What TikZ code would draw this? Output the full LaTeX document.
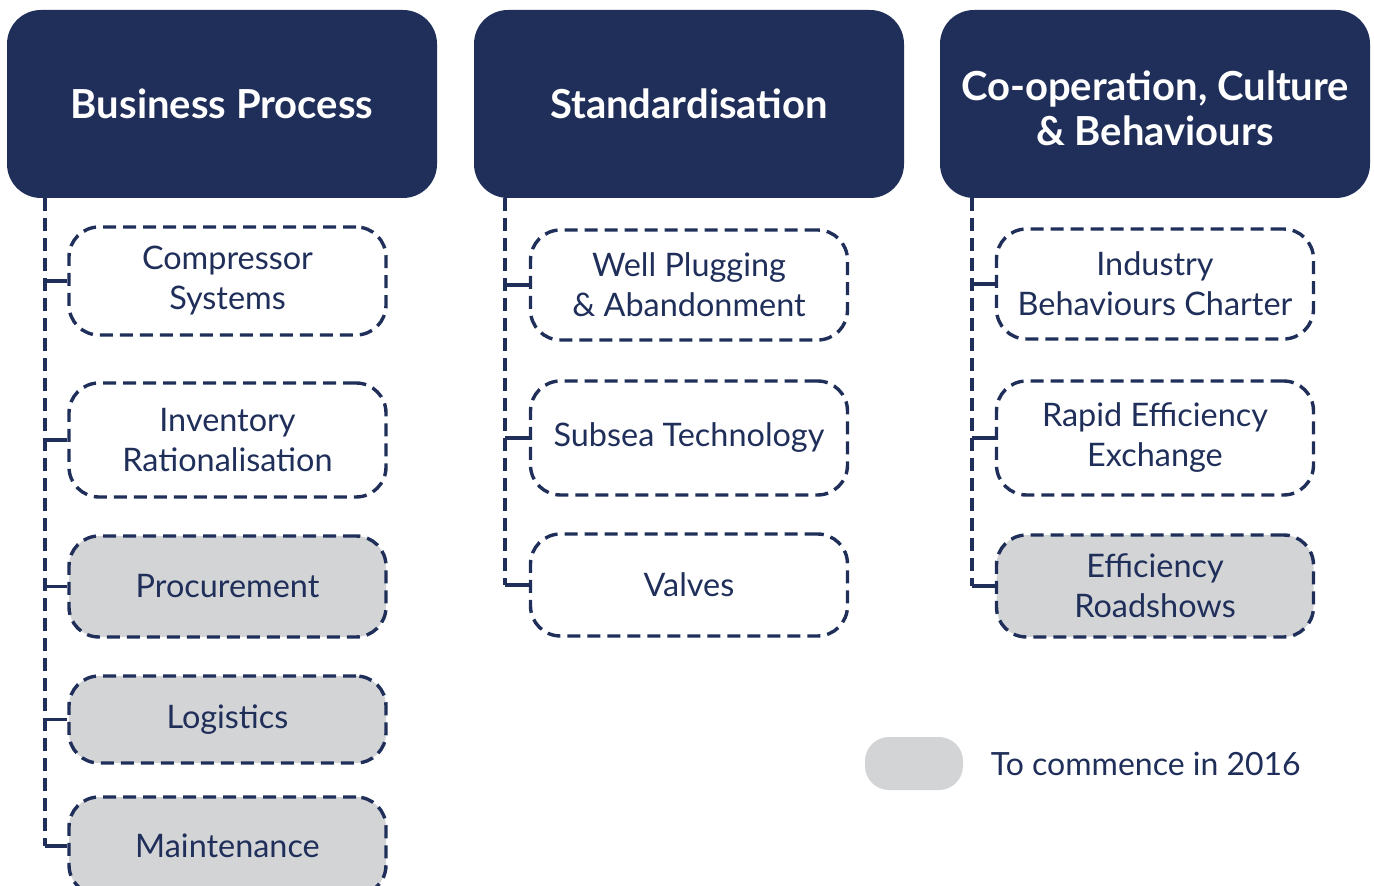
\documentclass[tikz,border=0pt]{standalone}
\usepackage{fontspec}
\setmainfont{Lato}
\usetikzlibrary{positioning}
\definecolor{navy}{RGB}{31,47,90}
\definecolor{soon}{RGB}{211,212,214}
\tikzset{
  head/.style={rectangle,rounded corners=17pt,fill=navy,text=white,
    font=\bfseries\fontsize{20}{22.5}\selectfont,minimum width=215pt,minimum height=94pt,align=center},
  item/.style={rectangle,rounded corners=15pt,draw=navy,line width=1.7pt,dash pattern=on 6.5pt off 3.5pt,
    text=navy,font=\fontsize{16.2}{20}\selectfont,minimum width=158.5pt,align=center},
  later/.style={item,fill=soon},
  trunk/.style={draw=navy,line width=1.6pt,dash pattern=on 6.5pt off 3.5pt},
  twig/.style={draw=navy,line width=1.6pt},
}
\begin{document}
\begin{tikzpicture}[x=0.5pt,y=-0.5pt]
                        \clip (0,0) rectangle (1374,886);
                        % Business process
                        \node[head] (bp) at (222,104) {Business Process};
                        \node[item,minimum height=54pt] (cs) at (227.5,281) {Compressor\\Systems};
                        \node[item,minimum height=57pt] (ir) at (227.5,440) {Inventory\\Rationalisation};
                        \node[later,minimum height=50.5pt] (pr) at (227.5,586.5) {Procurement};
                        \node[later,minimum height=43.5pt] (lg) at (227.5,719.5) {Logistics};
                        \node[later,minimum height=49pt] (mt) at (227.5,846) {Maintenance};
                        \coordinate (t1) at (45,198);
                        % Standardisation
                        \node[head] (sd) at (689,104) {Standardisation};
                        \node[item,minimum height=55pt] (wp) at (689,285) {Well Plugging\\\& Abandonment};
                        \node[item,minimum height=57pt] (st) at (689,438) {Subsea Technology};
                        \node[item,minimum height=51pt] (vv) at (689,585) {Valves};
                        \coordinate (t2) at (505,198);
                        % Co-operation
                        \node[head] (cc) at (1155,104) {\rule{0pt}{19.5pt}Co-operation, Culture\\\& Behaviours};
                        \node[item,minimum height=55pt] (ib) at (1155,284) {Industry\\Behaviours Charter};
                        \node[item,minimum height=57pt] (re) at (1155,438) {Rapid Efficiency\\Exchange};
                        \node[later,minimum height=51pt] (er) at (1155,586) {Efficiency\\Roadshows};
                        \coordinate (t3) at (972,198);
                        % links
                        \draw[trunk] (t1) -- (t1 |- mt.west);
                        \foreach \n in {cs,ir,pr,lg,mt} \draw[twig] (t1 |- \n.west) -- (\n.west);
                        \draw[trunk] (t2) -- (t2 |- vv.west);
                        \foreach \n in {wp,st,vv} \draw[twig] (t2 |- \n.west) -- (\n.west);
                        \draw[trunk] (t3) -- (t3 |- er.west);
                        \foreach \n in {ib,re,er} \draw[twig] (t3 |- \n.west) -- (\n.west);
                        % key
                        \node[fill=soon,rounded corners=12pt,minimum width=49pt,minimum height=26.5pt] (key) at (914,763.5) {};
                        \node[right=13.5pt of key,inner sep=0pt,text=navy,font=\fontsize{16}{20}\selectfont] (keytext) {To commence in 2016};
\end{tikzpicture}
\end{document}
